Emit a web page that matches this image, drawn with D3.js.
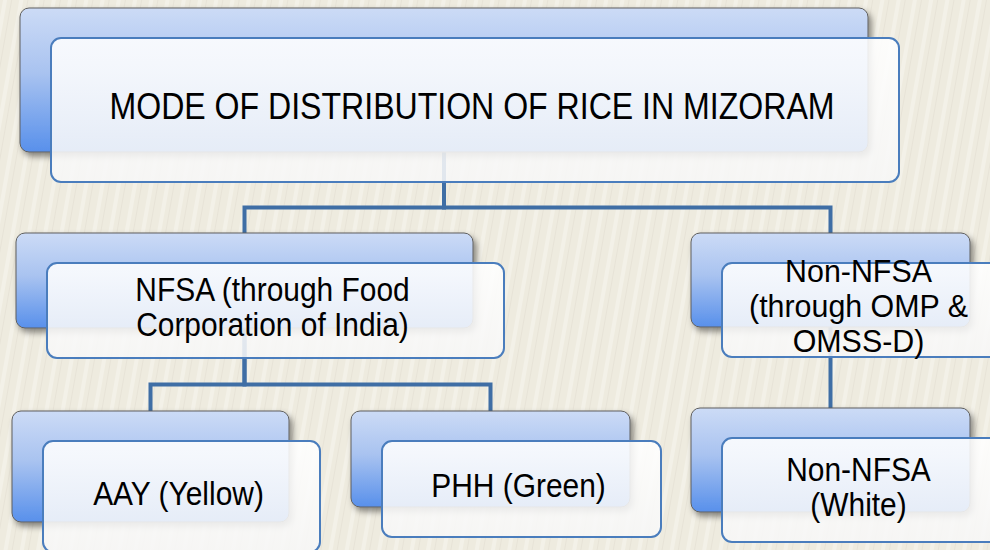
<!DOCTYPE html>
<html>
<head>
<meta charset="utf-8">
<script src="https://cdn.jsdelivr.net/npm/d3@7"></script>
<style>
  body { margin: 0; background: #eeebdf; }
  svg { display: block; }
</style>
</head>
<body>
<div id="chart"></div>
<script>
// boxes of the hierarchy, one entry per node ("\n" splits lines)
var node_ids = ["root", "nfsa", "non_nfsa", "aay", "phh", "white"];
var node_labels = [
    "MODE OF DISTRIBUTION OF RICE IN MIZORAM",
    "NFSA (through Food\nCorporation of India)",
    "Non-NFSA\n(through OMP &\nOMSS-D)",
    "AAY (Yellow)",
    "PHH (Green)",
    "Non-NFSA\n(White)"
];
var node_parents = ["", "root", "root", "nfsa", "nfsa", "non_nfsa"];

// geometry of the back (blue) box of each node: [x, y, width, height]
var back_boxes = {
    root:     [20, 8, 848, 144],
    nfsa:     [16, 233, 457, 95],
    non_nfsa: [691, 233, 279, 94],
    aay:      [12, 411, 277, 111],
    phh:      [351, 411, 279, 96],
    white:    [691, 408, 279, 104]
};
var front_dx = 31, front_dy = 30;

var width = 990, height = 550;
var line_color = "#3f6ea5";

var svg = d3.select("#chart")
    .append("svg")
    .attr("width", width)
    .attr("height", height);

var defs = svg.append("defs");

// faint streaks of the paper background
var pat = defs.append("pattern")
    .attr("id", "paper")
    .attr("width", 16)
    .attr("height", 16)
    .attr("patternUnits", "userSpaceOnUse")
    .attr("patternTransform", "rotate(10)");
pat.append("rect").attr("width", 16).attr("height", 16).attr("fill", "#eeebdf");
pat.append("rect").attr("x", 3).attr("width", 4).attr("height", 16).attr("fill", "#f3f1e8");
pat.append("rect").attr("x", 11).attr("width", 1).attr("height", 16).attr("fill", "#e7e3d7");

var blue = defs.append("linearGradient")
    .attr("id", "backGrad")
    .attr("x1", 0).attr("y1", 0).attr("x2", 0).attr("y2", 1);
blue.append("stop").attr("offset", "0%").attr("stop-color", "#ccdbf6");
blue.append("stop").attr("offset", "45%").attr("stop-color", "#a9c3f0");
blue.append("stop").attr("offset", "100%").attr("stop-color", "#5890eb");

var white = defs.append("linearGradient")
    .attr("id", "frontGrad")
    .attr("x1", 0).attr("y1", 0).attr("x2", 0).attr("y2", 1);
white.append("stop").attr("offset", "0%").attr("stop-color", "#ffffff");
white.append("stop").attr("offset", "100%").attr("stop-color", "#f7f7f7");

var shadow = defs.append("filter")
    .attr("id", "shadow")
    .attr("x", "-10%").attr("y", "-10%")
    .attr("width", "130%").attr("height", "140%");
shadow.append("feDropShadow")
    .attr("dx", 3).attr("dy", 4)
    .attr("stdDeviation", 3)
    .attr("flood-color", "#000")
    .attr("flood-opacity", 0.45);

svg.append("rect")
    .attr("width", width)
    .attr("height", height)
    .attr("fill", "url(#paper)");

// build the tree
var table = node_ids.map(function (id, i) {
    return { id: id, parent: node_parents[i] || null, label: node_labels[i] };
});
var root = d3.stratify()
    .id(function (d) { return d.id; })
    .parentId(function (d) { return d.parent; })(table);

var nodes = root.descendants();

// elbow connectors, drawn under the boxes
svg.append("g")
    .selectAll("path")
    .data(root.links())
    .join("path")
    .attr("fill", "none")
    .attr("stroke", line_color)
    .attr("stroke-width", 4)
    .attr("d", function (l) {
        var p = back_boxes[l.source.id], c = back_boxes[l.target.id];
        var px = p[0] + p[2] / 2, cx = c[0] + c[2] / 2;
        var midY = (p[1] + p[3] + front_dy + c[1]) / 2;
        var path = d3.path();
        path.moveTo(px, p[1] + p[3]);
        path.lineTo(px, midY);
        path.lineTo(cx, midY);
        path.lineTo(cx, c[1]);
        return path.toString();
    });

var boxes = svg.append("g")
    .selectAll("g")
    .data(nodes)
    .join("g");

boxes.append("rect")
    .attr("x", function (d) { return back_boxes[d.id][0]; })
    .attr("y", function (d) { return back_boxes[d.id][1]; })
    .attr("width", function (d) { return back_boxes[d.id][2]; })
    .attr("height", function (d) { return back_boxes[d.id][3]; })
    .attr("rx", 9)
    .attr("fill", "url(#backGrad)")
    .attr("stroke", "#5e5e5e")
    .attr("stroke-width", 1)
    .attr("filter", "url(#shadow)");

boxes.append("rect")
    .attr("x", function (d) { return back_boxes[d.id][0] + front_dx; })
    .attr("y", function (d) { return back_boxes[d.id][1] + front_dy; })
    .attr("width", function (d) { return back_boxes[d.id][2]; })
    .attr("height", function (d) { return back_boxes[d.id][3]; })
    .attr("rx", 10)
    .attr("fill", "url(#frontGrad)")
    .attr("fill-opacity", 0.88)
    .attr("stroke", "#4a7dbd")
    .attr("stroke-width", 2);

// labels centred in the front box
boxes.each(function (d) {
    var b = back_boxes[d.id];
    var lines = d.data.label.split("\n");
    var size = 34, lh = 35, sx = 0.88;
    if (d.depth === 0) { size = 37; sx = 0.867; }
    if (lines.length > 2) { size = 31; sx = 0.98; }
    var cx = b[0] + front_dx + b[2] / 2 - 3;
    var cy = b[1] + front_dy + b[3] / 2;
    var y0 = cy - (lines.length - 1) * lh / 2 + size * 0.716 / 2 - 4;
    var t = d3.select(this).append("text")
        .attr("transform", "translate(" + cx + "," + y0 + ") scale(" + sx + ",1)")
        .attr("text-anchor", "middle")
        .attr("font-family", "'Liberation Sans', Arial, sans-serif")
        .attr("font-size", size)
        .attr("fill", "#000");
    t.selectAll("tspan")
        .data(lines)
        .join("tspan")
        .attr("x", 0)
        .attr("y", function (s, i) { return i * lh; })
        .text(function (s) { return s; });
});
</script>
</body>
</html>
